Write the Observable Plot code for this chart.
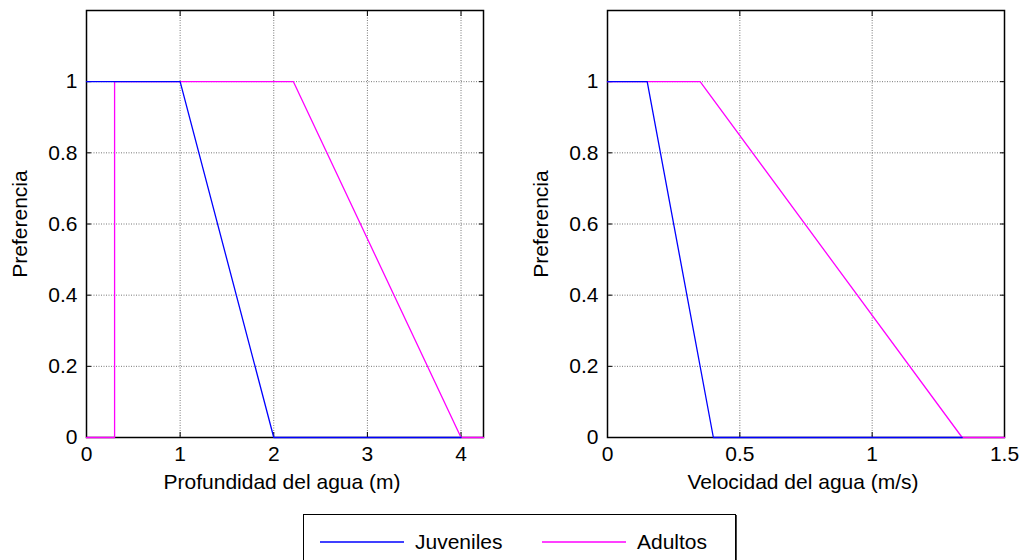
<!DOCTYPE html>
<html>
<head>
<meta charset="utf-8">
<script src="https://cdn.jsdelivr.net/npm/d3@7"></script>
<script src="https://cdn.jsdelivr.net/npm/@observablehq/plot@0.6"></script>
<style>
  html, body { margin: 0; padding: 0; background: #fff; width: 1024px; height: 560px; overflow: hidden; }
  body { position: relative; font-family: "Liberation Sans", Arial, sans-serif; }
  .panel { position: absolute; top: 0; }
  #legend { position: absolute; left: 303px; top: 514px; width: 431px; height: 60px; border: 1px solid #000; box-shadow: 1px 1px 0 #444; background: #fff; font-size: 21px; color: #000; }
  .item { position: absolute; top: 15px; display: flex; align-items: center; }
  .item svg { margin-right: 11px; }
</style>
</head>
<body>
<div id="left" class="panel" style="left:0px"></div>
<div id="right" class="panel" style="left:521px"></div>
<div id="legend"></div>
<script>
// ---- data ----
const seriesNames = ["Juveniles", "Adultos"];
const seriesColors = ["#0000ff", "#ff00ff"];

const depthJuvX = [0, 1, 2, 4];
const depthJuvY = [1, 1, 0, 0];
const depthAduX = [0, 0.3, 0.3, 2.21, 4, 4.24];
const depthAduY = [0, 0, 1, 1, 0, 0];

const velJuvX = [0, 0.15, 0.4, 1.34];
const velJuvY = [1, 1, 0, 0];
const velAduX = [0, 0.35, 1.34, 1.5];
const velAduY = [1, 1, 0, 0];

const depthTicks = [0, 1, 2, 3, 4];
const velTicks = [0, 0.5, 1, 1.5];
const yTicks = [0, 0.2, 0.4, 0.6, 0.8, 1];

const toPts = (xs, ys) => xs.map((x, i) => ({x, y: ys[i]}));

function panel({juv, adu, xDomain, xTicks, xLabel}) {
  const fs = 21;
  const gridStyle = {stroke: "#777", strokeOpacity: 1, strokeDasharray: "1,1.5", strokeWidth: 1};
  return Plot.plot({
    width: 500,
    height: 500,
    marginLeft: 86,
    marginRight: 17,
    marginTop: 10,
    marginBottom: 63,
    style: {fontFamily: "Liberation Sans, Arial, sans-serif", fontSize: fs + "px", color: "#000", background: "#fff"},
    x: {domain: xDomain},
    y: {domain: [0, 1.2]},
    marks: [
      Plot.gridX(xTicks, gridStyle),
      Plot.gridY(yTicks, gridStyle),
      Plot.frame({stroke: "#000", strokeWidth: 1.5}),
      Plot.axisX(xTicks, {anchor: "bottom", tickSize: 0, tickPadding: 9, fontSize: fs, tickFormat: d => String(d), label: null}),
      Plot.axisX(xTicks, {anchor: "bottom", tickSize: -5, text: null, label: null}),
      Plot.axisX(xTicks, {anchor: "top", tickSize: -5, text: null, label: null}),
      Plot.axisY(yTicks, {anchor: "left", tickSize: 0, tickPadding: 9, fontSize: fs, tickFormat: d => String(d), label: null}),
      Plot.axisY(yTicks, {anchor: "left", tickSize: -5, text: null, label: null}),
      Plot.axisY(yTicks, {anchor: "right", tickSize: -5, text: null, label: null}),
      Plot.line(adu, {x: "x", y: "y", stroke: seriesColors[1], strokeWidth: 1.3}),
      Plot.line(juv, {x: "x", y: "y", stroke: seriesColors[0], strokeWidth: 1.3}),
      Plot.text([xLabel], {frameAnchor: "bottom", dx: -3, dy: 51, fontSize: fs, fill: "#000"}),
      Plot.text(["Preferencia"], {frameAnchor: "left", textAnchor: "middle", dx: -66, rotate: -90, fontSize: fs, fill: "#000"})
    ]
  });
}

document.getElementById("left").appendChild(panel({
  juv: toPts(depthJuvX, depthJuvY),
  adu: toPts(depthAduX, depthAduY),
  xDomain: [0, 4.24],
  xTicks: depthTicks,
  xLabel: "Profundidad del agua (m)"
}));
document.getElementById("right").appendChild(panel({
  juv: toPts(velJuvX, velJuvY),
  adu: toPts(velAduX, velAduY),
  xDomain: [0, 1.5],
  xTicks: velTicks,
  xLabel: "Velocidad del agua (m/s)"
}));

// legend
const legend = document.getElementById("legend");
const lefts = [16, 238];
seriesNames.forEach((name, i) => {
  const item = document.createElement("div");
  item.className = "item";
  item.style.left = lefts[i] + "px";
  item.innerHTML = `<svg width="84" height="4"><line x1="0" y1="2" x2="84" y2="2" stroke="${seriesColors[i]}" stroke-width="1.5"/></svg><span>${name}</span>`;
  legend.appendChild(item);
});
</script>
</body>
</html>
